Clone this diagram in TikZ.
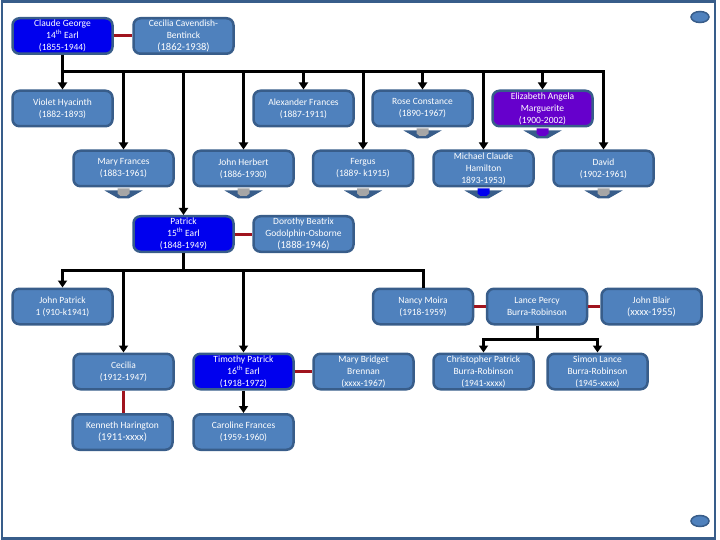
\documentclass[tikz,border=0pt]{standalone}
\usepackage{fontspec}
\setmainfont{Carlito}
\usetikzlibrary{arrows.meta}
\definecolor{lb}{HTML}{4F81BD}
\definecolor{bord}{HTML}{385D8A}
\definecolor{royal}{HTML}{0000EE}
\definecolor{purp}{HTML}{6600CC}
\definecolor{mar}{HTML}{A0141E}
\definecolor{chgray}{HTML}{A6A6A6}
\newcommand\bigdate[1]{{\fontsize{10.5}{12}\selectfont #1}}
\begin{document}
\begin{tikzpicture}[x=1pt,y=-1pt,
 person/.style={draw=bord, line width=2.5pt, fill=lb, rounded corners=7pt, text=white,
   minimum width=100pt, minimum height=35.5pt, inner sep=0pt, align=center,
   font=\fontsize{9.5}{12}\selectfont},
 earl/.style={person, fill=royal},
 lady/.style={person, fill=purp},
 kin/.style={black, line width=3pt},
 kinarrow/.style={kin, -{Triangle[width=9pt,length=7pt]}},
 wed/.style={mar, line width=3pt}]
\useasboundingbox (0,0) rectangle (720,540);
\draw[bord, line width=2.5pt] (2,1.5) rectangle (715,538.5);

% generation 1
\node[earl]   (cg) at (62.5,36)  {Claude George\\14\textsuperscript{th} Earl\\(1855-1944)};
\node[person] (cc) at (183.5,36) {Cecilia Cavendish-\\Bentinck\\\bigdate{(1862-1938)}};

% generation 2
\node[person] (vh) at (62.5,108.5)  {Violet Hyacinth\\(1882-1893)};
\node[person] (af) at (303.5,108.5) {Alexander Frances\\(1887-1911)};
\node[person] (rc) at (422.5,108.5) {Rose Constance\\(1890-1967)};
\node[lady]   (ea) at (542.5,108.5) {Elizabeth Angela\\Marguerite\\(1900-2002)};
\node[person] (mf) at (123.5,168.5) {Mary Frances\\(1883-1961)};
\node[person] (jh) at (243.5,168.5) {John Herbert\\(1886-1930)};
\node[person] (fg) at (363,168.5)   {Fergus\\(1889- k1915)};
\node[person] (mc) at (483.5,168.5) {Michael Claude\\Hamilton\\1893-1953)};
\node[person] (dv) at (603.5,168.5) {David\\(1902-1961)};
\node[earl]   (pt) at (183.5,234)   {Patrick\\15\textsuperscript{th} Earl\\(1848-1949)};
\node[person] (db) at (303.5,234)   {Dorothy Beatrix\\Godolphin-Osborne\\\bigdate{(1888-1946)}};

% generation 3
\node[person] (jp) at (62.5,306.5)  {John Patrick\\1 (910-k1941)};
\node[person] (nm) at (423,306.5)   {Nancy Moira\\(1918-1959)};
\node[person] (lp) at (537,306.5)   {Lance Percy\\Burra-Robinson};
\node[person] (jb) at (651.5,306.5) {John Blair\\\bigdate{(xxxx-1955)}};
\node[person] (ce) at (123.5,371.5) {Cecilia\\(1912-1947)};
\node[earl]   (tp) at (243.5,371.5) {Timothy Patrick\\16\textsuperscript{th} Earl\\(1918-1972)};
\node[person] (mb) at (363.5,371.5) {Mary Bridget\\Brennan\\(xxxx-1967)};
\node[person] (cp) at (483.5,371.5) {Christopher Patrick\\Burra-Robinson\\(1941-xxxx)};
\node[person] (sl) at (597.5,371.5) {Simon Lance\\Burra-Robinson\\(1945-xxxx)};
\node[person] (kh) at (122.5,432)   {Kenneth Harington\\\bigdate{(1911-xxxx)}};
\node[person] (cf) at (243.5,432)   {Caroline Frances\\(1959-1960)};

% marriages
\draw[wed] (cg.east) -- (cc.west);
\draw[wed] (pt.east) -- (db.west);
\draw[wed] (nm.east) -- (lp.west);
\draw[wed] (lp.east) -- (jb.west);
\draw[wed] (tp.east) -- (mb.west);
\draw[wed] (ce.south) -- (ce.south |- kh.north);

% children of Claude George
\coordinate (bar1) at (0,72);
\draw[kinarrow] (cg.south) |- (dv.north |- bar1) -- (dv.north);
\foreach \c in {vh,af,rc,ea,mf,jh,fg,mc}
  \draw[kinarrow] (\c.north |- bar1) -- (\c.north);
\draw[kinarrow] (pt.north |- bar1) -- (pt.north);

% children of Patrick
\coordinate (bar2) at (0,270);
\draw[kin] (pt.south) -- (pt.south |- bar2);
\draw[kinarrow] (nm.north) |- (jp.north |- bar2) -- (jp.north);
\draw[kinarrow] (ce.north |- bar2) -- (ce.north);
\draw[kinarrow] (tp.north |- bar2) -- (tp.north);

% children of Lance Percy
\coordinate (bar3) at (0,339);
\draw[kin] (lp.south) -- (lp.south |- bar3);
\draw[kin, {Triangle[width=9pt,length=7pt]}-{Triangle[width=9pt,length=7pt]}]
  (cp.north) |- (sl.north |- bar3) -- (sl.north);

% child of Timothy
\draw[kinarrow] (tp.south) -- (cf.north);

% collapse markers
\foreach \n/\c in {rc/chgray, ea/purp, mf/chgray, jh/chgray, fg/chgray, mc/royal, dv/chgray}{
  \begin{scope}[shift={(\n.south)}]
    \fill[bord] (-19,3) -- (19,3) -- (5,11) -- (-5,11) -- cycle;
    \fill[\c] (-6,1) -- (6,1) -- (6,6) -- (3,8.5) -- (-3,8.5) -- (-6,6) -- cycle;
  \end{scope}
}

% corner ovals
\draw[bord, fill=lb, line width=1.5pt] (700,17) ellipse [x radius=9, y radius=5.5];
\draw[bord, fill=lb, line width=1.5pt] (700,521) ellipse [x radius=9, y radius=5.5];
\end{tikzpicture}
\end{document}
